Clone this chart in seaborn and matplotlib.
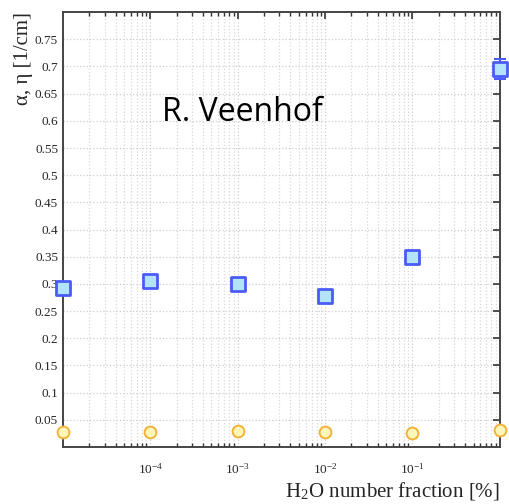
import matplotlib
matplotlib.use("Agg")
import matplotlib.pyplot as plt
import matplotlib.ticker as mticker
import numpy as np
import pandas as pd
import seaborn as sns

# H2O number fraction [%]
fraction = [1e-5, 1e-4, 1e-3, 1e-2, 1e-1, 1.0]
# Townsend coefficient alpha [1/cm] and its uncertainty
alpha = [0.293, 0.305, 0.299, 0.277, 0.349, 0.695]
alpha_err = [0.007, 0.009, 0.008, 0.007, 0.012, 0.018]
# attachment coefficient eta [1/cm]
eta = [0.028, 0.028, 0.029, 0.027, 0.026, 0.031]

y_ticks = [0.05, 0.1, 0.15, 0.2, 0.25, 0.3, 0.35, 0.4, 0.45, 0.5, 0.55, 0.6, 0.65, 0.7, 0.75]
y_tick_labels = ["0.05", "0.1", "0.15", "0.2", "0.25", "0.3", "0.35", "0.4", "0.45",
                 "0.5", "0.55", "0.6", "0.65", "0.7", "0.75"]
x_ticks = [1e-4, 1e-3, 1e-2, 1e-1]
x_tick_labels = [r"$\mathregular{10^{-4}}$", r"$\mathregular{10^{-3}}$",
                 r"$\mathregular{10^{-2}}$", r"$\mathregular{10^{-1}}$"]

df = pd.DataFrame({"fraction": fraction, "alpha": alpha, "eta": eta})

sns.set_style("white")
plt.rcParams["font.family"] = ["Liberation Serif", "DejaVu Serif"]
plt.rcParams["mathtext.fontset"] = "stix"

fig = plt.figure(figsize=(5.1, 5.04), dpi=100)
ax = fig.add_axes([0.1235, 0.1131, 0.8565, 0.8629])

ax.set_xscale("log")
ax.set_xlim(1e-5, 1.0)
ax.set_ylim(0.0, 0.8)

ax.errorbar(df["fraction"], df["alpha"], yerr=alpha_err, fmt="none",
            ecolor="#4a5cf5", elinewidth=1.5, capsize=4.5, capthick=1.5,
            zorder=3, clip_on=False)
sns.scatterplot(data=df, x="fraction", y="alpha", ax=ax, marker="s", s=88,
                color="#b3e2fb", edgecolor="#4a5cf5", linewidth=2.0,
                zorder=4, clip_on=False, legend=False)
sns.scatterplot(data=df, x="fraction", y="eta", ax=ax, marker="o", s=72,
                color="#fff6b8", edgecolor="#f4b23c", linewidth=1.4,
                zorder=4, clip_on=False, legend=False)

ax.set_yticks(y_ticks)
ax.set_yticklabels(y_tick_labels)
ax.set_xticks(x_ticks)
ax.set_xticklabels(x_tick_labels)
ax.xaxis.set_minor_locator(mticker.LogLocator(base=10, subs=np.arange(2, 10)))
ax.xaxis.set_minor_formatter(mticker.NullFormatter())

ax.grid(True, which="major", axis="both", color="#cfcfcf", linestyle=":", linewidth=0.9)
ax.grid(True, which="minor", axis="x", color="#d8d8d8", linestyle=":", linewidth=0.9)
ax.set_axisbelow(True)

ax.tick_params(axis="both", which="major", direction="in", length=5, width=1.2,
               top=True, right=True, color="#333333", labelsize=9.5)
ax.tick_params(axis="x", which="major", pad=11)
ax.tick_params(axis="x", which="minor", direction="in", length=3, width=1.0,
               top=True, bottom=True, color="#333333")
for s in ax.spines.values():
    s.set_color("#444444")
    s.set_linewidth(1.4)

ax.set_xlabel(r"H$_\mathregular{2}$O number fraction [%]", fontsize=15, ha="right",
              x=1.0, labelpad=2)
ax.set_ylabel(r"α, η [1/cm]", fontsize=15, ha="right", y=1.0, labelpad=1)

ax.text(0.41, 0.77, "R. Veenhof", transform=ax.transAxes, fontsize=23,
        family="Open Sans", ha="center", va="center", color="black")

fig.savefig("out.png", dpi=100)
